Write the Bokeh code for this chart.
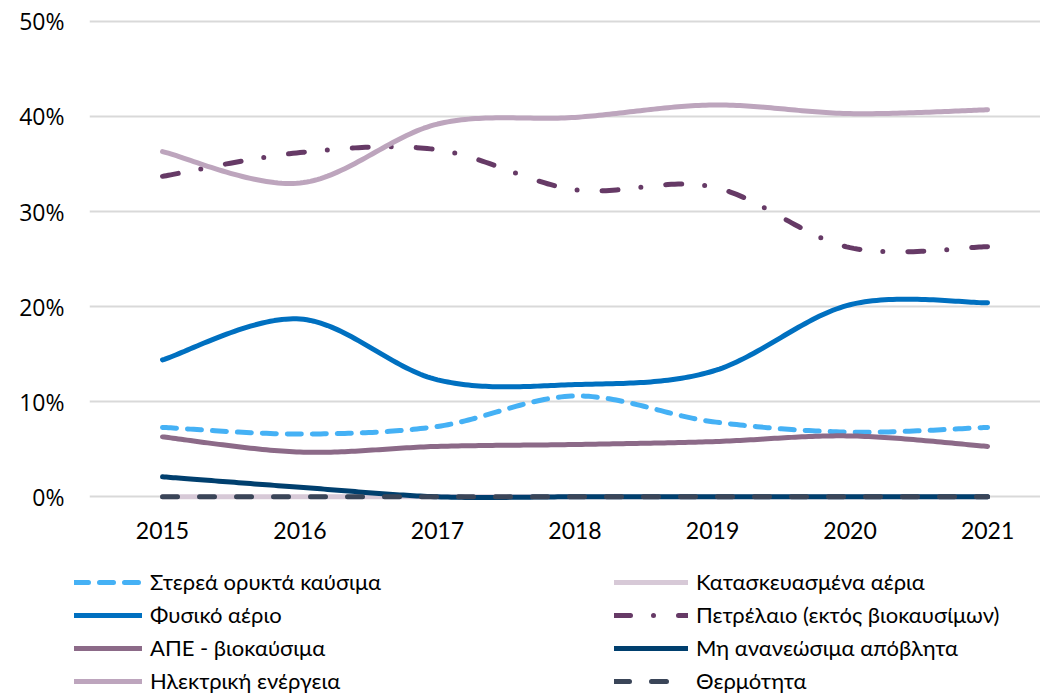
import numpy as np
from bokeh.plotting import figure
from bokeh.layouts import column
from bokeh.models import Legend, LegendItem, FixedTicker, CustomJSTickFormatter, Range1d
from bokeh.embed import file_html
from bokeh.resources import INLINE

years = [2015, 2016, 2017, 2018, 2019, 2020, 2021]
y_ticks = [0, 10, 20, 30, 40, 50]

solid_fossil = [7.3, 6.6, 7.4, 10.6, 7.9, 6.8, 7.3]
natural_gas = [14.4, 18.7, 12.3, 11.8, 13.2, 20.2, 20.4]
res_biofuels = [6.3, 4.7, 5.3, 5.5, 5.8, 6.4, 5.3]
electricity = [36.3, 33.0, 39.2, 39.9, 41.2, 40.3, 40.7]
manufactured_gases = [0, 0, 0, 0, 0, 0, 0]
oil = [33.7, 36.2, 36.5, 32.3, 32.6, 26.2, 26.3]
nonrenew_waste = [2.1, 1.0, 0.0, 0.0, 0.0, 0.0, 0.0]
heat = [0, 0, 0, 0, 0, 0, 0]

labels = {
    "solid": "Στερεά ορυκτά καύσιμα",
    "gas": "Φυσικό αέριο",
    "res": "ΑΠΕ - βιοκαύσιμα",
    "elec": "Ηλεκτρική ενέργεια",
    "manu": "Κατασκευασμένα αέρια",
    "oil": "Πετρέλαιο (εκτός βιοκαυσίμων)",
    "waste": "Μη ανανεώσιμα απόβλητα",
    "heat": "Θερμότητα",
}


def smooth(xs, ys, n=40):
    """Excel-style smoothed line (Catmull-Rom Bezier) through the data points."""
    P = [np.array([x, y], dtype=float) for x, y in zip(xs, ys)]
    P = [P[0]] + P + [P[-1]]
    ox, oy = [], []
    for i in range(1, len(P) - 2):
        p0, p1, p2, p3 = P[i - 1], P[i], P[i + 1], P[i + 2]
        c1 = p1 + (p2 - p0) / 6.0
        c2 = p2 - (p3 - p1) / 6.0
        last = i == len(P) - 3
        t = np.linspace(0, 1, n, endpoint=last)
        b = ((1 - t) ** 3)[:, None] * p1 + (3 * (1 - t) ** 2 * t)[:, None] * c1 \
            + (3 * (1 - t) * t ** 2)[:, None] * c2 + (t ** 3)[:, None] * p2
        ox.extend(b[:, 0].tolist())
        oy.extend(b[:, 1].tolist())
    return ox, oy


p = figure(width=1040, height=560, output_backend="svg", toolbar_location=None,
           x_range=Range1d(2014.469, 2021.385), y_range=Range1d(-0.6, 50.3),
           min_border_left=89, min_border_right=0, min_border_top=18, min_border_bottom=58)
p.frame_align = False
p.outline_line_color = None
p.background_fill_color = "white"

p.xgrid.visible = False
p.ygrid.grid_line_color = "#d9d9d9"
p.ygrid.grid_line_width = 2
p.ygrid.ticker = FixedTicker(ticks=y_ticks)

p.yaxis.ticker = FixedTicker(ticks=y_ticks)
p.yaxis.formatter = CustomJSTickFormatter(code="return tick.toFixed(0) + '%';")
p.yaxis.axis_line_color = None
p.yaxis.major_tick_line_color = None
p.yaxis.minor_tick_line_color = None
p.yaxis.major_tick_out = 0
p.yaxis.major_label_standoff = 25
p.yaxis.major_label_text_font = "Open Sans"
p.yaxis.major_label_text_font_size = "23px"
p.yaxis.major_label_text_color = "#000000"

p.xaxis.ticker = FixedTicker(ticks=years)
p.xaxis.formatter = CustomJSTickFormatter(code="return tick.toFixed(0);")
p.xaxis.axis_line_color = None
p.xaxis.major_tick_line_color = None
p.xaxis.minor_tick_line_color = None
p.xaxis.major_tick_out = 0
p.xaxis.major_label_standoff = 19
p.xaxis.major_label_text_font = "Lato"
p.xaxis.major_label_text_font_size = "23px"
p.xaxis.major_label_text_color = "#000000"

LW = 5
series = [
    ("solid", solid_fossil, "#45b1f5", "14 11"),
    ("manu", manufactured_gases, "#d7c9d7", "solid"),
    ("gas", natural_gas, "#0070c0", "solid"),
    ("oil", oil, "#663a66", "16 23 0 25"),
    ("res", res_biofuels, "#8c6a88", "solid"),
    ("waste", nonrenew_waste, "#003f6e", "solid"),
    ("elec", electricity, "#bda5bd", "solid"),
    ("heat", heat, "#3a4558", "15 22"),
]

# legend panel below the chart (its lines lie outside its visible range;
# only the legend swatches show)
lp = figure(width=1040, height=133, output_backend="svg", toolbar_location=None,
            x_range=Range1d(0, 1), y_range=Range1d(0, 1),
            x_axis_location=None, y_axis_location=None,
            min_border_left=0, min_border_right=0, min_border_top=0, min_border_bottom=0)
lp.frame_align = False
lp.outline_line_color = None
lp.xgrid.visible = False
lp.ygrid.visible = False

legend_rends = {}
for key, vals, color, dash in series:
    sx, sy = smooth(years, vals)
    style = dict(line_color=color, line_width=LW, line_dash=dash,
                 line_cap="round", line_join="round")
    p.line(sx, sy, **style)
    legend_rends[key] = lp.line(sx, sy, **style)

col1 = ["solid", "gas", "res", "elec"]
col2 = ["manu", "oil", "waste", "heat"]


def make_legend(keys, loc, gw):
    lg = Legend(items=[LegendItem(label=labels[k], renderers=[legend_rends[k]]) for k in keys],
                location=loc, orientation="vertical")
    lg.glyph_width = gw
    lg.glyph_height = 22
    lg.label_height = 22
    lg.spacing = 6
    lg.padding = 0
    lg.margin = 0
    lg.label_standoff = 8
    lg.border_line_color = None
    lg.background_fill_alpha = 0
    lg.label_text_font = "Lato"
    lg.label_text_font_size = "22px"
    lg.label_text_color = "#000000"
    return lg


lp.add_layout(make_legend(col1, (74, -1), 68))
lp.add_layout(make_legend(col2, (614, -1), 74))

layout = column(p, lp, spacing=0)
open("out.html", "w").write(file_html(layout, INLINE))
